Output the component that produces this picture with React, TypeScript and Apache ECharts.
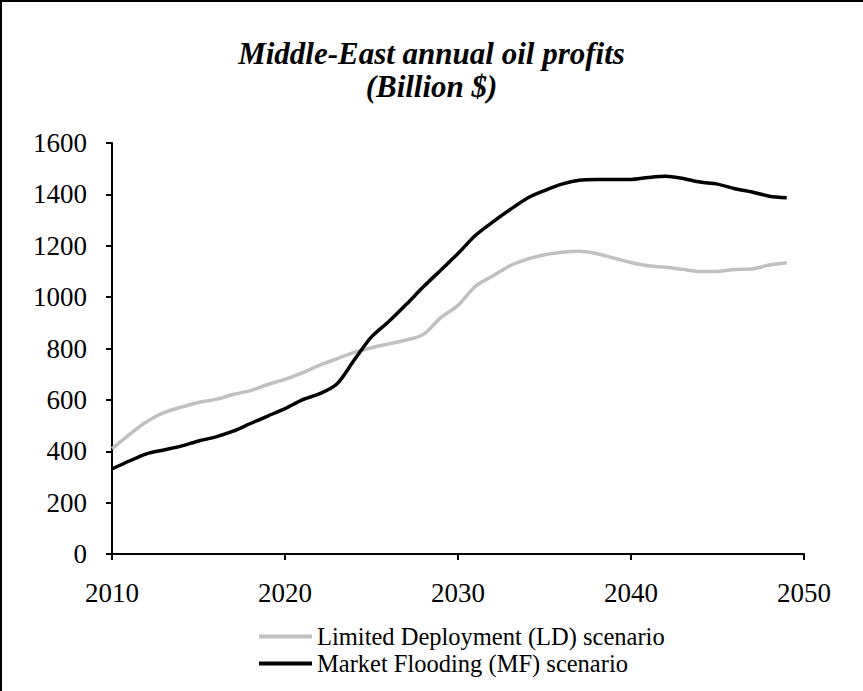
import React, { useEffect, useRef } from "react";
import * as echarts from "echarts";

const years = Array.from({ length: 40 }, (_, i) => 2010 + i);
const ldValues = [410, 465, 515, 550, 572, 590, 602, 621, 636, 660, 680, 705, 735, 760, 785, 803, 818, 833, 855, 920, 968, 1042, 1082, 1122, 1148, 1165, 1175, 1179, 1170, 1152, 1135, 1122, 1116, 1108, 1100, 1100, 1108, 1110, 1125, 1134];
const mfValues = [331, 362, 390, 405, 420, 440, 456, 478, 508, 537, 566, 600, 624, 662, 755, 845, 905, 971, 1040, 1105, 1170, 1240, 1292, 1340, 1385, 1415, 1440, 1455, 1458, 1458, 1458, 1466, 1471, 1462, 1448, 1440, 1422, 1409, 1393, 1387];
const seriesNames = ["Limited Deployment (LD) scenario", "Market Flooding (MF) scenario"];
const titleText = "Middle-East annual oil profits\n(Billion $)";

const FONT = "'Liberation Serif', 'Times New Roman', serif";

export default function App() {
  const ref = useRef<HTMLDivElement>(null);
  useEffect(() => {
    if (!ref.current) return;
    const chart = echarts.init(ref.current, null, { renderer: "svg" });
    chart.setOption({
      animation: false,
      backgroundColor: "#ffffff",
      title: {
        text: titleText,
        left: "center",
        top: 32,
        textStyle: {
          fontFamily: FONT,
          fontSize: 31,
          fontWeight: "bold",
          fontStyle: "italic",
          color: "#000",
          lineHeight: 33,
        },
      },
      graphic: [
        {
          type: "rect",
          shape: { x: 1, y: 1, width: 900, height: 800 },
          style: { fill: "none", stroke: "#000", lineWidth: 2 },
          silent: true,
        },
      ],
      legend: {
        orient: "vertical",
        left: 254,
        top: 619,
        icon: "rect",
        itemWidth: 53,
        itemHeight: 4,
        itemGap: 2,
        textStyle: { fontFamily: FONT, fontSize: 24.5, color: "#000", padding: [0, 0, 0, 0] },
        data: seriesNames,
      },
      grid: { left: 112, right: 59, top: 143, bottom: 137 },
      xAxis: {
        type: "value",
        min: 2010,
        max: 2050,
        interval: 10,
        axisLine: { lineStyle: { color: "#000", width: 2 } },
        axisTick: { show: true, length: 6, lineStyle: { color: "#000", width: 2 } },
        axisLabel: { fontFamily: FONT, fontSize: 27, color: "#000", margin: 25, formatter: (v: number) => String(v) },
        splitLine: { show: false },
      },
      yAxis: {
        type: "value",
        min: 0,
        max: 1600,
        interval: 200,
        axisLine: { show: true, lineStyle: { color: "#000", width: 2 } },
        axisTick: { show: true, length: 6, lineStyle: { color: "#000", width: 2 } },
        axisLabel: { fontFamily: FONT, fontSize: 27, color: "#000", margin: 25, formatter: (v: number) => String(v) },
        splitLine: { show: false },
      },
      series: [
        {
          name: seriesNames[0],
          type: "line",
          data: years.map((y, i) => [y, ldValues[i]]),
          symbol: "none",
          smooth: 0.3,
          lineStyle: { color: "#c0c0c0", width: 3.5 },
          itemStyle: { color: "#c0c0c0" },
        },
        {
          name: seriesNames[1],
          type: "line",
          data: years.map((y, i) => [y, mfValues[i]]),
          symbol: "none",
          smooth: 0.3,
          lineStyle: { color: "#000", width: 3.5 },
          itemStyle: { color: "#000" },
        },
      ],
    });
    return () => chart.dispose();
  }, []);
  return <div ref={ref} style={{ position: "fixed", left: 0, top: 0, width: 863, height: 691 }} />;
}
